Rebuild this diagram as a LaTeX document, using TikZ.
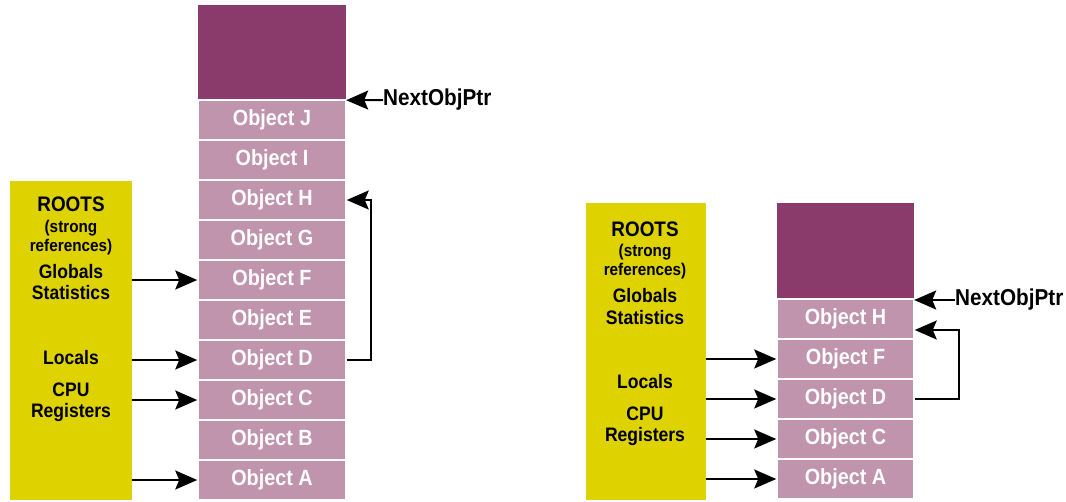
\documentclass[tikz,border=0pt]{standalone}
\usepackage{fontspec}
\setmainfont[FakeStretch=0.9]{Liberation Sans}
\usepackage{tikz}
\usepackage{xcolor}
\usetikzlibrary{positioning,arrows.meta,calc}
\definecolor{freecol}{RGB}{139,58,108}
\definecolor{objcol}{RGB}{193,148,174}
\definecolor{rootcol}{RGB}{222,210,0}

\begin{document}
\begin{tikzpicture}[x=1pt, y=-1pt,
          every node/.style={font=\bfseries},
          obj/.style={rectangle, fill=objcol, draw=white, line width=1.5pt, minimum width=148pt, minimum height=40pt, inner sep=0pt, text=white, font=\bfseries\fontsize{22}{24}\selectfont},
          free/.style={rectangle, fill=freecol, minimum width=148pt, minimum height=95pt, inner sep=0pt},
          roots/.style={rectangle, fill=rootcol, inner sep=0pt},
          rtitle/.style={font=\bfseries\fontsize{21}{22}\selectfont},
          rnote/.style={align=center, font=\bfseries\fontsize{17}{19}\selectfont},
          ritem/.style={align=center, font=\bfseries\fontsize{19.5}{21.5}\selectfont},
          ptrlabel/.style={anchor=west, inner sep=0pt, font=\bfseries\fontsize{23}{24}\selectfont},
          ptr/.style={draw, line width=2pt, -{Stealth[length=22pt, width=19pt, inset=4pt]}}
      ]
        \useasboundingbox (0,0) rectangle (1066,501);

        \node[roots, minimum width=122pt, minimum height=319pt] (rootsL) at (71,340.5) {};
        \node[rtitle] (titleL) at (71,204) {ROOTS};
        \node[rnote] (noteL) at (71,237.5) {(strong\\references)};
        \node[ritem] (globL) at (71,282) {Globals\\Statistics};
        \node[ritem] (locL) at (71,358) {Locals};
        \node[ritem] (cpuL) at (71,402.5) {CPU\\Registers};

        \node[free] (freeL) at (272,52.5) {};
        \node[obj] (objJ) at (272,120) {Object J};
        \node[obj] (objI) at (272,160) {Object I};
        \node[obj] (objH) at (272,200) {Object H};
        \node[obj] (objG) at (272,240) {Object G};
        \node[obj] (objF) at (272,280) {Object F};
        \node[obj] (objE) at (272,320) {Object E};
        \node[obj] (objD) at (272,360) {Object D};
        \node[obj] (objC) at (272,400) {Object C};
        \node[obj] (objB) at (272,440) {Object B};
        \node[obj] (objA) at (272,480) {Object A};

        \node[ptrlabel] (nextL) at (383,100) {NextObjPtr};

        \draw[ptr] (nextL.west) -- (freeL.south east);
        \draw[ptr] (rootsL.east |- objF) -- (objF.west);
        \draw[ptr] (rootsL.east |- objD) -- (objD.west);
        \draw[ptr] (rootsL.east |- objC) -- (objC.west);
        \draw[ptr] (rootsL.east |- objA) -- (objA.west);
        \draw[ptr] (objD.east) -- ++(24,0) |- (objH.east);

        \node[roots, minimum width=120pt, minimum height=297pt] (rootsR) at (646,351.5) {};
        \node[rtitle] (titleR) at (645,229) {ROOTS};
        \node[rnote] (noteR) at (645,262) {(strong\\references)};
        \node[ritem] (globR) at (645,306.5) {Globals\\Statistics};
        \node[ritem] (locR) at (645,382) {Locals};
        \node[ritem] (cpuR) at (645,426.5) {CPU\\Registers};

        \node[free, minimum width=137pt] (freeR) at (845.5,250.5) {};
        \node[obj, minimum width=137pt] (newH) at (845.5,319) {Object H};
        \node[obj, minimum width=137pt] (newF) at (845.5,359) {Object F};
        \node[obj, minimum width=137pt] (newD) at (845.5,399) {Object D};
        \node[obj, minimum width=137pt] (newC) at (845.5,439) {Object C};
        \node[obj, minimum width=137pt] (newA) at (845.5,479) {Object A};

        \node[ptrlabel] (nextR) at (955,300) {NextObjPtr};

        \draw[ptr] (nextR.west) -- (nextR.west -| freeR.east);
        \draw[ptr] (rootsR.east |- newF) -- (newF.west);
        \draw[ptr] (rootsR.east |- newD) -- (newD.west);
        \draw[ptr] (rootsR.east |- newC) -- (newC.west);
        \draw[ptr] (rootsR.east |- newA) -- (newA.west);
        \draw[ptr] (newD.east) -- ++(44,0) |- ([yshift=-11pt]newH.east);
      \end{tikzpicture}
\end{document}
